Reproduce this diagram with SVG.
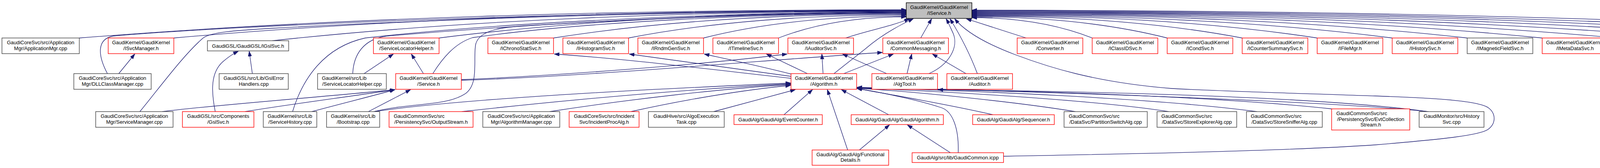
<svg xmlns="http://www.w3.org/2000/svg" width="5325" height="429" viewBox="0 0 5325 429">
<defs>
<style>
.node rect{stroke-width:1.4;fill:#ffffff}
.node.red rect{stroke:#ff0000}
.node.blk rect{stroke:#404040}
.node.root rect{stroke:#000000;fill:#bfbfbf}
.node text{font-family:"Liberation Sans",Arial,Helvetica,sans-serif;font-size:13px;fill:#000000;text-anchor:middle}
.node text.l{text-anchor:start}
#edges path{fill:none;stroke:#191970;stroke-width:1.3;marker-end:url(#arr)}
</style>
<marker id="arr" markerUnits="userSpaceOnUse" markerWidth="14" markerHeight="10" refX="13" refY="4.5" orient="auto">
<path d="M0,0 L13,4.5 L0,9 Z" fill="#191970" stroke="#191970" stroke-width="1"/>
</marker>
</defs>
<rect x="0" y="0" width="5325" height="429" fill="#ffffff"/>
<g id="edges">
<!-- into IService, from the left -->
<path d="M203,97 C838,46.6 1579,25 2320,25"/>
<path d="M445,97 C1007.5,47.3 1664,26 2320,26"/>
<path d="M275,188 C252,145 245,100 290,92 C600,65 1500,27 2320,27"/>
<path d="M358,285 C410,222 470,140 520,97 C540,82 600,78 700,72 C1200,45 1800,28 2320,28"/>
<path d="M697,104 C1184,51.5 1752,29 2320,29"/>
<path d="M749,285 C775,200 830,120 935,97 C1300,55 1900,31 2320,30"/>
<path d="M903,188 C905,140 930,100 990,92 C1400,58 1900,32 2320,31"/>
<path d="M1124,97 C1483,51.5 1901,32 2320,32"/>
<path d="M957,285 C1050,262 1140,272 1190,240 C1228,215 1210,150 1218,112 C1228,78 1280,70 1340,66 C1700,45 2000,34 2320,33"/>
<path d="M1108,188 C1133,148 1165,110 1210,96 C1500,55 1950,35 2320,34"/>
<path d="M1417,97 C1688,54 2004,36 2320,36"/>
<path d="M1609,97 C1822,55.7 2071,38 2320,38"/>
<path d="M1801,97 C1957,57.8 2138,41 2320,41"/>
<path d="M1993,97 C2091,59 2206,43 2320,43"/>
<path d="M2165,97 C2220,78 2280,68 2328,48"/>
<path d="M2135,188 C2170,160 2190,145 2215,125 C2250,95 2290,70 2338,48"/>
<path d="M2357,97 L2385,48"/>
<path d="M2378,188 C2430,165 2455,120 2440,85 C2433,70 2428,58 2422,48"/>
<path d="M2502,188 C2480,130 2455,85 2432,48"/>
<path d="M2569,399 C2900,393 3300,385 3520,370 C3700,355 3790,345 3810,330 C3830,315 3830,290 3810,275 C3780,255 3650,250 3520,245 C3300,238 3100,232 3000,226 C2800,210 2680,170 2600,140 C2520,110 2470,80 2444,48"/>
<!-- into IService, from the right -->
<path d="M2627,97 L2474,48"/>
<path d="M2796,97 C2703.6,60.6 2595.8,45 2488,45"/>
<path d="M2988,97 C2838,59.2 2663,43 2488,43"/>
<path d="M3180,97 C2972.4,57.8 2730.2,41 2488,41"/>
<path d="M3372,97 C3106.8,56.75 2797.4,39.5 2488,39.5"/>
<path d="M3564,97 C3241.2,55.7 2864.6,38 2488,38"/>
<path d="M3756,97 C3375.6,54.65 2931.8,36.5 2488,36.5"/>
<path d="M3948,97 C3510,53.6 2999,35 2488,35"/>
<path d="M4140,97 C3644.4,52.55 3066.2,33.5 2488,33.5"/>
<path d="M4332,97 C3778.8,51.5 3133.4,32 2488,32"/>
<path d="M4524,97 C3913.2,50.45 3200.6,30.5 2488,30.5"/>
<path d="M4716,97 C4047.6,49.4 3267.8,29 2488,29"/>
<path d="M4908,97 C4182,48.35 3335,27.5 2488,27.5"/>
<path d="M5135,97 C4340.9,47.3 3414.5,26 2488,26"/>
<!-- other edges -->
<path d="M304,188 L345,138"/>
<path d="M646,188 L638,131"/>
<path d="M551,285 C540,230 540,185 570,158 C585,145 595,138 610,131"/>
<path d="M932,188 L1007,138"/>
<path d="M1084,188 L1053,138"/>
<path d="M415,285 C550,268 800,250 1011,229"/>
<path d="M627,285 C750,265 900,246 1011,229"/>
<path d="M798,285 C880,263 950,246 1011,229"/>
<path d="M943,285 L1051,229"/>
<path d="M1181,203 C1400,195 1800,165 2015,138"/>
<path d="M1181,205 C1500,196 2000,150 2259,134"/>
<path d="M2025,200 C1800,175 1600,150 1419,138"/>
<path d="M2025,195 C1850,170 1700,150 1611,138"/>
<path d="M2025,189 C1950,170 1880,155 1803,138"/>
<path d="M2067,188 L1962,138"/>
<path d="M2107,188 L2104,138"/>
<path d="M2160,188 L2287,138"/>
<path d="M2270,188 L2157,138"/>
<path d="M2322,188 L2334,138"/>
<path d="M2473,188 L2387,138"/>
<path d="M957,285 C1200,250 1700,226 2024,212"/>
<path d="M1182,285 C1500,250 1800,226 2024,214"/>
<path d="M1407,285 C1600,255 1850,226 2024,216"/>
<path d="M1615,285 C1750,255 1900,230 2024,218"/>
<path d="M1827,285 L2036,229"/>
<path d="M2007,293 L2080,229"/>
<path d="M2170,383 L2118,229"/>
<path d="M2275,293 L2154,229"/>
<path d="M2200,383 L2277,319"/>
<path d="M2433,390 L2323,319"/>
<path d="M2453,390 C2455,330 2440,285 2410,275 C2350,255 2250,235 2194,226"/>
<path d="M2542,293 C2420,265 2270,240 2194,226"/>
<path d="M2753,285 C2600,260 2350,235 2194,225"/>
<path d="M2992,285 C2800,255 2400,232 2194,225"/>
<path d="M3218,285 C2950,250 2500,232 2194,224"/>
<path d="M3409,278 C3100,245 2600,230 2194,224"/>
<path d="M3657,285 C3400,258 2700,235 2194,223"/>
<path d="M3655,285 C3400,250 2900,235 2401,229"/>
</g>
<g id="n_iservice" class="node root"><rect x="2320" y="7" width="168" height="40"/><text x="2404" y="23.2">GaudiKernel/GaudiKernel</text><text x="2404" y="37.9">/IService.h</text></g>
<g id="n_appmgr" class="node blk"><rect x="5" y="97" width="198" height="40"/><text x="104" y="113.2">GaudiCoreSvc/src/Application</text><text x="104" y="127.9">Mgr/ApplicationMgr.cpp</text></g>
<g id="n_isvcmanager" class="node red"><rect x="277" y="97" width="168" height="40"/><text x="361" y="113.2">GaudiKernel/GaudiKernel</text><text x="361" y="127.9">/ISvcManager.h</text></g>
<g id="n_igslsvc" class="node blk"><rect x="531" y="104" width="208" height="26"/><text x="635" y="121.5">GaudiGSL/GaudiGSL/IGslSvc.h</text></g>
<g id="n_slhelperh" class="node red"><rect x="956" y="97" width="168" height="40"/><text x="1040" y="113.2">GaudiKernel/GaudiKernel</text><text x="1040" y="127.9">/ServiceLocatorHelper.h</text></g>
<g id="n_ichronostatsvc" class="node red"><rect x="1249" y="97" width="168" height="40"/><text x="1333" y="113.2">GaudiKernel/GaudiKernel</text><text x="1333" y="127.9">/IChronoStatSvc.h</text></g>
<g id="n_ihistogramsvc" class="node red"><rect x="1441" y="97" width="168" height="40"/><text x="1525" y="113.2">GaudiKernel/GaudiKernel</text><text x="1525" y="127.9">/IHistogramSvc.h</text></g>
<g id="n_irndmgensvc" class="node red"><rect x="1633" y="97" width="168" height="40"/><text x="1717" y="113.2">GaudiKernel/GaudiKernel</text><text x="1717" y="127.9">/IRndmGenSvc.h</text></g>
<g id="n_itimelinesvc" class="node red"><rect x="1825" y="97" width="168" height="40"/><text x="1909" y="113.2">GaudiKernel/GaudiKernel</text><text x="1909" y="127.9">/ITimelineSvc.h</text></g>
<g id="n_iauditorsvc" class="node red"><rect x="2017" y="97" width="168" height="40"/><text x="2101" y="113.2">GaudiKernel/GaudiKernel</text><text x="2101" y="127.9">/IAuditorSvc.h</text></g>
<g id="n_commonmessaging" class="node red"><rect x="2260" y="97" width="168" height="40"/><text x="2344" y="113.2">GaudiKernel/GaudiKernel</text><text x="2344" y="127.9">/CommonMessaging.h</text></g>
<g id="n_converter" class="node red"><rect x="2604" y="97" width="168" height="40"/><text x="2688" y="113.2">GaudiKernel/GaudiKernel</text><text x="2688" y="127.9">/Converter.h</text></g>
<g id="n_iclassidsvc" class="node red"><rect x="2796" y="97" width="168" height="40"/><text x="2880" y="113.2">GaudiKernel/GaudiKernel</text><text x="2880" y="127.9">/IClassIDSvc.h</text></g>
<g id="n_icondsvc" class="node red"><rect x="2988" y="97" width="168" height="40"/><text x="3072" y="113.2">GaudiKernel/GaudiKernel</text><text x="3072" y="127.9">/ICondSvc.h</text></g>
<g id="n_icountersummarysvc" class="node red"><rect x="3180" y="97" width="168" height="40"/><text x="3264" y="113.2">GaudiKernel/GaudiKernel</text><text x="3264" y="127.9">/ICounterSummarySvc.h</text></g>
<g id="n_ifilemgr" class="node red"><rect x="3372" y="97" width="168" height="40"/><text x="3456" y="113.2">GaudiKernel/GaudiKernel</text><text x="3456" y="127.9">/IFileMgr.h</text></g>
<g id="n_ihistorysvc" class="node red"><rect x="3564" y="97" width="168" height="40"/><text x="3648" y="113.2">GaudiKernel/GaudiKernel</text><text x="3648" y="127.9">/IHistorySvc.h</text></g>
<g id="n_imagneticfieldsvc" class="node blk"><rect x="3756" y="97" width="168" height="40"/><text x="3840" y="113.2">GaudiKernel/GaudiKernel</text><text x="3840" y="127.9">/IMagneticFieldSvc.h</text></g>
<g id="n_imetadatasvc" class="node red"><rect x="3948" y="97" width="168" height="40"/><text x="4032" y="113.2">GaudiKernel/GaudiKernel</text><text x="4032" y="127.9">/IMetaDataSvc.h</text></g>
<g id="n_iparticlepropertysvc" class="node red"><rect x="4140" y="97" width="168" height="40"/><text x="4224" y="113.2">GaudiKernel/GaudiKernel</text><text x="4224" y="127.9">/IParticlePropertySvc.h</text></g>
<g id="n_ipartpropsvc" class="node red"><rect x="4332" y="97" width="168" height="40"/><text x="4416" y="113.2">GaudiKernel/GaudiKernel</text><text x="4416" y="127.9">/IPartPropSvc.h</text></g>
<g id="n_istatuscodesvc" class="node red"><rect x="4524" y="97" width="168" height="40"/><text x="4608" y="113.2">GaudiKernel/GaudiKernel</text><text x="4608" y="127.9">/IStatusCodeSvc.h</text></g>
<g id="n_ithistsvc" class="node red"><rect x="4716" y="97" width="168" height="40"/><text x="4800" y="113.2">GaudiKernel/GaudiKernel</text><text x="4800" y="127.9">/ITHistSvc.h</text></g>
<g id="n_evtseldatastream" class="node blk"><rect x="4908" y="97" width="203" height="40"/><text class="l" x="4919" y="113.2">GaudiKernel/src/Lib</text><text x="5009.5" y="127.9">/EventSelectorDataStream.cpp</text></g>
<g id="n_metadatasvccpp" class="node blk"><rect x="5135" y="97" width="186" height="40"/><text x="5228" y="113.2">GaudiSvc/src/MetaDataSvc</text><text x="5228" y="127.9">/MetaDataSvc.cpp</text></g>
<g id="n_dllclassmgr" class="node blk"><rect x="189" y="188" width="198" height="40"/><text x="288" y="204.2">GaudiCoreSvc/src/Application</text><text x="288" y="218.9">Mgr/DLLClassManager.cpp</text></g>
<g id="n_gslerrorhandlers" class="node blk"><rect x="561" y="188" width="177" height="40"/><text x="649.5" y="204.2">GaudiGSL/src/Lib/GslError</text><text x="649.5" y="218.9">Handlers.cpp</text></g>
<g id="n_slhelpercpp" class="node blk"><rect x="813" y="188" width="176" height="40"/><text class="l" x="824" y="204.2">GaudiKernel/src/Lib</text><text x="901" y="218.9">/ServiceLocatorHelper.cpp</text></g>
<g id="n_serviceh" class="node red"><rect x="1013" y="188" width="168" height="40"/><text x="1097" y="204.2">GaudiKernel/GaudiKernel</text><text x="1097" y="218.9">/Service.h</text></g>
<g id="n_algorithmh" class="node red"><rect x="2025" y="188" width="168" height="40"/><text x="2109" y="204.2">GaudiKernel/GaudiKernel</text><text x="2109" y="218.9">/Algorithm.h</text></g>
<g id="n_algtoolh" class="node red"><rect x="2232" y="188" width="168" height="40"/><text x="2316" y="204.2">GaudiKernel/GaudiKernel</text><text x="2316" y="218.9">/AlgTool.h</text></g>
<g id="n_auditorh" class="node red"><rect x="2424" y="188" width="168" height="40"/><text x="2508" y="204.2">GaudiKernel/GaudiKernel</text><text x="2508" y="218.9">/Auditor.h</text></g>
<g id="n_servicemanager" class="node blk"><rect x="245" y="285" width="198" height="40"/><text x="344" y="301.2">GaudiCoreSvc/src/Application</text><text x="344" y="315.9">Mgr/ServiceManager.cpp</text></g>
<g id="n_gslsvch" class="node red"><rect x="467" y="285" width="183" height="40"/><text x="558.5" y="301.2">GaudiGSL/src/Components</text><text x="558.5" y="315.9">/GslSvc.h</text></g>
<g id="n_servicehistory" class="node blk"><rect x="674" y="285" width="137" height="40"/><text class="l" x="685" y="301.2">GaudiKernel/src/Lib</text><text x="742.5" y="315.9">/ServiceHistory.cpp</text></g>
<g id="n_bootstrap" class="node blk"><rect x="836" y="285" width="136" height="40"/><text x="904" y="301.2">GaudiKernel/src/Lib</text><text x="904" y="315.9">/Bootstrap.cpp</text></g>
<g id="n_outputstream" class="node red"><rect x="996" y="285" width="215" height="40"/><text class="l" x="1008" y="301.2">GaudiCommonSvc/src</text><text x="1103.5" y="315.9">/PersistencySvc/OutputStream.h</text></g>
<g id="n_algorithmmanager" class="node blk"><rect x="1236" y="285" width="197" height="40"/><text x="1334.5" y="301.2">GaudiCoreSvc/src/Application</text><text x="1334.5" y="315.9">Mgr/AlgorithmManager.cpp</text></g>
<g id="n_incidentprocalg" class="node red"><rect x="1457" y="285" width="179" height="40"/><text x="1546.5" y="301.2">GaudiCoreSvc/src/Incident</text><text x="1546.5" y="315.9">Svc/IncidentProcAlg.h</text></g>
<g id="n_algoexecutiontask" class="node blk"><rect x="1660" y="285" width="194" height="40"/><text x="1757" y="301.2">GaudiHive/src/AlgoExecution</text><text x="1757" y="315.9">Task.cpp</text></g>
<g id="n_eventcounter" class="node red"><rect x="1879" y="293" width="226" height="25"/><text x="1992" y="310">GaudiAlg/GaudiAlg/EventCounter.h</text></g>
<g id="n_gaudialgorithm" class="node red"><rect x="2179" y="293" width="236" height="25"/><text x="2297" y="310">GaudiAlg/GaudiAlg/GaudiAlgorithm.h</text></g>
<g id="n_sequencer" class="node red"><rect x="2490" y="293" width="209" height="25"/><text x="2594.5" y="310">GaudiAlg/GaudiAlg/Sequencer.h</text></g>
<g id="n_partitionswitch" class="node blk"><rect x="2724" y="285" width="213" height="40"/><text class="l" x="2736" y="301.2">GaudiCommonSvc/src</text><text x="2830.5" y="315.9">/DataSvc/PartitionSwitchAlg.cpp</text></g>
<g id="n_storeexplorer" class="node blk"><rect x="2962" y="285" width="204" height="40"/><text class="l" x="2973" y="301.2">GaudiCommonSvc/src</text><text x="3064" y="315.9">/DataSvc/StoreExplorerAlg.cpp</text></g>
<g id="n_storesniffer" class="node blk"><rect x="3191" y="285" width="194" height="40"/><text class="l" x="3202" y="301.2">GaudiCommonSvc/src</text><text x="3288" y="315.9">/DataSvc/StoreSnifferAlg.cpp</text></g>
<g id="n_evtcollectionstream" class="node red"><rect x="3409" y="278" width="200" height="54"/><text class="l" x="3421" y="294">GaudiCommonSvc/src</text><text x="3509" y="308.6">/PersistencySvc/EvtCollection</text><text x="3509" y="323">Stream.h</text></g>
<g id="n_historysvccpp" class="node blk"><rect x="3633" y="285" width="166" height="40"/><text x="3716" y="301.2">GaudiMonitor/src/History</text><text x="3716" y="315.9">Svc.cpp</text></g>
<g id="n_functionaldetails" class="node red"><rect x="2079" y="383" width="196" height="39"/><text x="2177" y="398.5">GaudiAlg/GaudiAlg/Functional</text><text x="2177" y="412.8">Details.h</text></g>
<g id="n_gaudicommonicpp" class="node red"><rect x="2335" y="390" width="234" height="25"/><text x="2452" y="407">GaudiAlg/src/lib/GaudiCommon.icpp</text></g>
</svg>
